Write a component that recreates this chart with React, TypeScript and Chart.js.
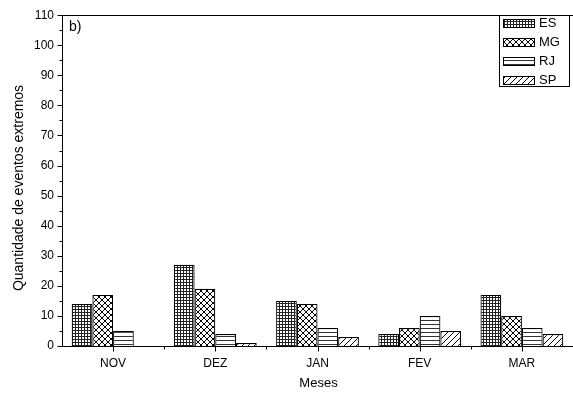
import React, { useEffect, useRef } from 'react';
import { Chart, registerables } from 'chart.js';

Chart.register(...registerables);

const categories = ['NOV', 'DEZ', 'JAN', 'FEV', 'MAR'];
const seriesNames = ['ES', 'MG', 'RJ', 'SP'];
const esValues = [14, 27, 15, 4, 17];
const mgValues = [17, 19, 14, 6, 10];
const rjValues = [5, 4, 6, 10, 6];
const spValues = [0, 1, 3, 5, 4];
const yMin = 0;
const yMax = 110;
const yStep = 10;
const panelLabel = 'b)';
const xTitle = 'Meses';
const yTitle = 'Quantidade de eventos extremos';

const FONT = '"Liberation Sans", Arial, sans-serif';

function makePattern(kind: string): CanvasPattern | string {
  const c = document.createElement('canvas');
  let s = 6;
  if (kind === 'grid') s = 3;
  if (kind === 'hlines') s = 4;
  c.width = s;
  c.height = s;
  const ctx = c.getContext('2d');
  if (!ctx) return '#fff';
  ctx.fillStyle = '#fff';
  ctx.fillRect(0, 0, s, s);
  ctx.fillStyle = '#000';
  if (kind === 'grid') {
    ctx.fillStyle = '#222';
    ctx.fillRect(0, 0, s, 1);
    ctx.fillRect(0, 0, 1, s);
  } else if (kind === 'cross') {
    for (let i = 0; i < s; i++) {
      ctx.fillRect(i, i, 1, 1);
      ctx.fillRect(s - 1 - i, i, 1, 1);
    }
  } else if (kind === 'hlines') {
    ctx.fillStyle = '#333';
    ctx.fillRect(0, 0, s, 1);
  } else if (kind === 'diag') {
    for (let i = 0; i < s; i++) {
      ctx.fillRect(s - 1 - i, i, 1, 1);
    }
  }
  const p = ctx.createPattern(c, 'repeat');
  return p || '#fff';
}

export default function App() {
  const ref = useRef<HTMLCanvasElement>(null);

  useEffect(() => {
    const canvas = ref.current;
    if (!canvas) return;
    document.body.style.margin = '0';
    const patterns = [
      makePattern('grid'),
      makePattern('cross'),
      makePattern('hlines'),
      makePattern('diag'),
    ];
    const values = [esValues, mgValues, rjValues, spValues];

    const decor = {
      id: 'decor',
      afterDraw(chart: any) {
        const ctx = chart.ctx as CanvasRenderingContext2D;
        const area = chart.chartArea;
        const xs = chart.scales.x;
        const ys = chart.scales.y;
        ctx.save();
        ctx.strokeStyle = '#000';
        ctx.lineWidth = 1;
        // frame
        const L = Math.round(area.left) + 0.5;
        const R = Math.round(area.right) + 0.5;
        const T = Math.round(area.top) + 0.5;
        const B = Math.round(area.bottom) + 0.5;
        ctx.beginPath();
        ctx.moveTo(L, B);
        ctx.lineTo(L, T);
        ctx.lineTo(R, T);
        ctx.lineTo(R, B);
        ctx.lineTo(L - 0.5, B);
        ctx.stroke();
        // y ticks
        ctx.beginPath();
        for (let v = yMin; v <= yMax; v += yStep / 2) {
          const y = Math.round(ys.getPixelForValue(v)) + 0.5;
          const major = v % yStep === 0;
          ctx.moveTo(L, y);
          ctx.lineTo(L - (major ? 5 : 3), y);
        }
        // x ticks
        for (let i = 0; i < categories.length; i++) {
          const x = Math.round(xs.getPixelForValue(i)) + 0.5;
          ctx.moveTo(x, B);
          ctx.lineTo(x, B + 5);
          if (i < categories.length - 1) {
            const xb = Math.round((xs.getPixelForValue(i) + xs.getPixelForValue(i + 1)) / 2) + 0.5;
            ctx.moveTo(xb, B);
            ctx.lineTo(xb, B + 3);
          }
        }
        ctx.stroke();

        // titles
        ctx.fillStyle = '#000';
        ctx.font = '13px ' + FONT;
        ctx.textAlign = 'center';
        ctx.textBaseline = 'middle';
        ctx.fillText(xTitle, 318.5, 383);
        ctx.save();
        ctx.translate(19, 188);
        ctx.rotate(-Math.PI / 2);
        ctx.font = '14px ' + FONT;
        ctx.fillText(yTitle, 0, 0);
        ctx.restore();

        // panel label
        ctx.textAlign = 'left';
        ctx.font = '14px ' + FONT;
        ctx.fillText(panelLabel, 69, 27);

        // legend
        ctx.strokeRect(499.5, 15.5, 70, 71);
        ctx.font = '13px ' + FONT;
        for (let k = 0; k < seriesNames.length; k++) {
          const top = 19 + k * 19;
          ctx.fillStyle = patterns[k] as any;
          ctx.fillRect(503, top, 32, 8);
          ctx.strokeRect(503.5, top + 0.5, 31, 8);
          ctx.fillStyle = '#000';
          ctx.fillText(seriesNames[k], 539, top + 4.5);
        }
        ctx.restore();
      },
    };

    const chart = new Chart(canvas, {
      type: 'bar',
      data: {
        labels: categories,
        datasets: seriesNames.map((name, k) => ({
          label: name,
          data: values[k],
          backgroundColor: patterns[k] as any,
          borderColor: '#000',
          borderWidth: 1.2,
          categoryPercentage: 0.81,
          barPercentage: 1.0,
        })),
      },
      options: {
        responsive: false,
        animation: false,
        maintainAspectRatio: false,
        layout: { padding: { top: 13, right: 0, left: 0, bottom: 0 } },
        plugins: {
          legend: { display: false },
          tooltip: { enabled: false },
          title: { display: false },
        },
        scales: {
          x: {
            grid: { display: false, drawTicks: false },
            border: { display: false },
            ticks: {
              color: '#000',
              font: { family: FONT, size: 12 },
              padding: 10,
              maxRotation: 0,
            },
            afterFit: (scale: any) => {
              scale.height = 48;
            },
          },
          y: {
            min: yMin,
            max: yMax,
            grid: { display: false, drawTicks: false },
            border: { display: false },
            ticks: {
              stepSize: yStep,
              color: '#000',
              font: { family: FONT, size: 12 },
              padding: 8,
            },
            afterFit: (scale: any) => {
              scale.width = 62;
            },
          },
        },
      },
      plugins: [decor],
    });
    return () => chart.destroy();
  }, []);

  return (
    <div style={{ position: 'absolute', left: 0, top: 0, width: 573, height: 394, background: '#fff' }}>
      <canvas ref={ref} width={573} height={394} style={{ display: 'block' }} />
    </div>
  );
}
